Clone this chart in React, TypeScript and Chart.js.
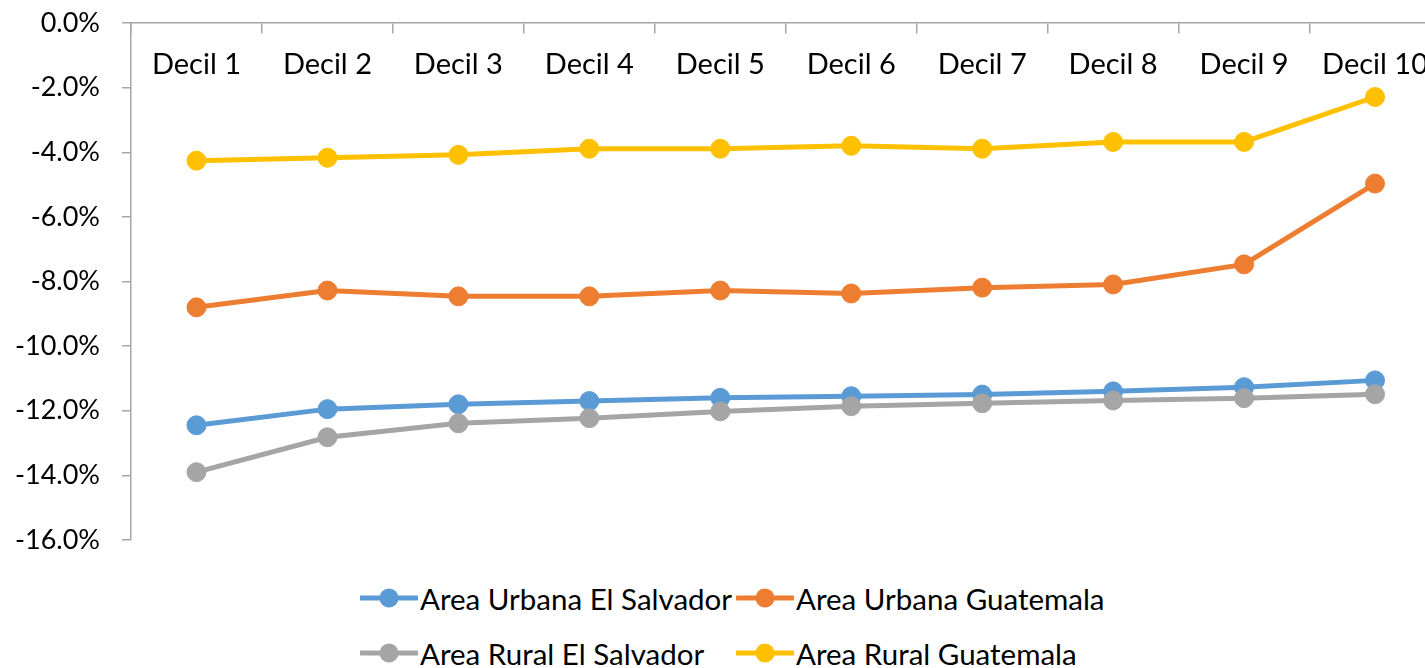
import React, { useEffect, useRef } from "react";
import { Chart, registerables } from "chart.js";

Chart.register(...registerables);

const categories = ["Decil 1", "Decil 2", "Decil 3", "Decil 4", "Decil 5", "Decil 6", "Decil 7", "Decil 8", "Decil 9", "Decil 10"];
const urbanaElSalvador = [-12.45, -11.95, -11.8, -11.7, -11.6, -11.55, -11.5, -11.4, -11.27, -11.06];
const urbanaGuatemala = [-8.8, -8.28, -8.46, -8.46, -8.28, -8.37, -8.19, -8.09, -7.47, -4.97];
const ruralElSalvador = [-13.9, -12.82, -12.39, -12.23, -12.02, -11.86, -11.77, -11.68, -11.61, -11.49];
const ruralGuatemala = [-4.26, -4.17, -4.08, -3.89, -3.89, -3.8, -3.89, -3.68, -3.68, -2.29];

const seriesNames = ["Area Urbana El Salvador", "Area Urbana Guatemala", "Area Rural El Salvador", "Area Rural Guatemala"];
const seriesColors = ["#5B9BD5", "#ED7D31", "#A5A5A5", "#FFC000"];
const seriesValues = [urbanaElSalvador, urbanaGuatemala, ruralElSalvador, ruralGuatemala];

const FONT = "Lato";
const AXIS_COLOR = "#A6A6A6";

function zeroPad(s: any) {
  s.paddingLeft = 0;
  s.paddingRight = 0;
  s.paddingTop = 0;
  s.paddingBottom = 0;
}

function LegendItem({ name, color, left, top }: { name: string; color: string; left: number; top: number }) {
  return (
    <div style={{ position: "absolute", left, top, height: 40, display: "flex", alignItems: "center", whiteSpace: "nowrap" }}>
      <svg width={58} height={24} style={{ display: "block" }}>
        <line x1={1} y1={12} x2={57} y2={12} stroke={color} strokeWidth={5} strokeLinecap="round" />
        <circle cx={29} cy={12} r={9.5} fill={color} />
      </svg>
      <span style={{ fontFamily: FONT, fontSize: 29.5, color: "#000", marginLeft: 2 }}>{name}</span>
    </div>
  );
}

export default function App() {
  const ref = useRef<HTMLCanvasElement>(null);

  useEffect(() => {
    if (!ref.current) return;
    const chart = new Chart(ref.current, {
      type: "line",
      data: {
        labels: categories,
        datasets: seriesValues.map((vals, i) => ({
          label: seriesNames[i],
          data: vals,
          borderColor: seriesColors[i],
          backgroundColor: seriesColors[i],
          pointBackgroundColor: seriesColors[i],
          pointBorderColor: seriesColors[i],
          borderWidth: 5,
          pointRadius: 9.5,
          pointBorderWidth: 1,
          tension: 0,
          order: 3 - i,
        })),
      },
      options: {
        animation: false,
        responsive: false,
        devicePixelRatio: 1,
        layout: { padding: { left: 0, right: 0, top: 23, bottom: 20 } },
        plugins: { legend: { display: false }, tooltip: { enabled: false }, title: { display: false } },
        scales: {
          x: {
            type: "category",
            position: { y: 0 },
            offset: true,
            grid: { drawOnChartArea: false, drawTicks: true, tickLength: 10, color: AXIS_COLOR, offset: true, lineWidth: 1.5 },
            border: { display: true, color: AXIS_COLOR, width: 1.5 },
            ticks: { padding: 14, color: "#000", font: { family: FONT, size: 29 }, maxRotation: 0, autoSkip: false },
            afterFit: (s: any) => zeroPad(s),
          },
          y: {
            type: "linear",
            min: -16,
            max: 0,
            ticks: {
              stepSize: 2,
              padding: 22,
              color: "#000",
              font: { family: FONT, size: 27 },
              callback: (v: any) => Number(v).toFixed(1) + "%",
            },
            grid: { drawOnChartArea: false, drawTicks: true, tickLength: 9, color: AXIS_COLOR, lineWidth: 1.5 },
            border: { display: true, color: AXIS_COLOR, width: 1.5 },
            afterFit: (s: any) => {
              s.width = 131;
              zeroPad(s);
            },
          },
        },
      } as any,
    });
    return () => chart.destroy();
  }, []);

  return (
    <div style={{ position: "absolute", left: 0, top: 0, width: 1425, height: 668, overflow: "hidden", background: "#fff" }}>
      <canvas ref={ref} width={1451} height={560} style={{ position: "absolute", left: 0, top: 0, width: 1451, height: 560 }} />
      <LegendItem name={seriesNames[0]} color={seriesColors[0]} left={360} top={578} />
      <LegendItem name={seriesNames[1]} color={seriesColors[1]} left={736} top={578} />
      <LegendItem name={seriesNames[2]} color={seriesColors[2]} left={360} top={633} />
      <LegendItem name={seriesNames[3]} color={seriesColors[3]} left={736} top={633} />
    </div>
  );
}
